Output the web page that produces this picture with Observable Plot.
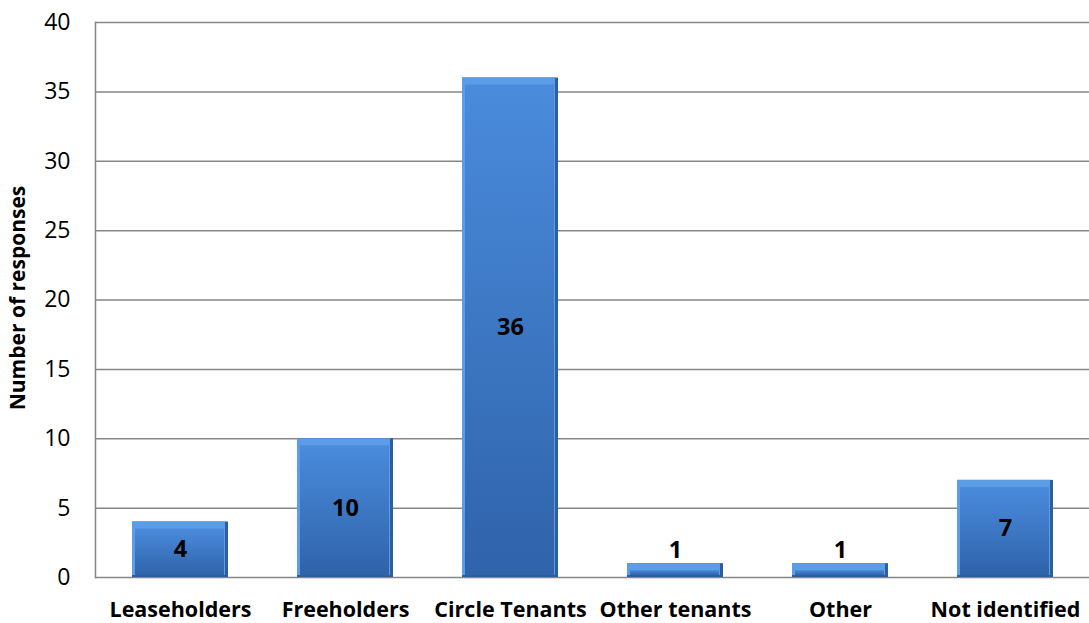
<!DOCTYPE html>
<html>
<head>
<meta charset="utf-8">
<script src="https://cdn.jsdelivr.net/npm/d3@7"></script>
<script src="https://cdn.jsdelivr.net/npm/@observablehq/plot@0.6"></script>
<style>
  html, body { margin: 0; padding: 0; background: #fff; }
  #chart svg { display: block; }
</style>
</head>
<body>
<div id="chart"></div>
<script>
const categories = ["Leaseholders", "Freeholders", "Circle Tenants", "Other tenants", "Other", "Not identified"];
const responses = [4, 10, 36, 1, 1, 7];
const yTicks = [0, 5, 10, 15, 20, 25, 30, 35, 40];
const yTitle = "Number of responses";

const data = categories.map((c, i) => ({ category: c, value: responses[i] }));

const font = "'Open Sans', Lato, sans-serif";

const plot = Plot.plot({
  width: 1089,
  height: 623,
  marginLeft: 95,
  marginRight: 0,
  marginTop: 22,
  marginBottom: 46,
  style: { fontFamily: font, background: "#fff" },
  x: { domain: categories, paddingInner: 0.42, paddingOuter: 0.21, label: null },
  y: { domain: [0, 40], ticks: yTicks, label: null },
  marks: [
    Plot.gridY(yTicks, { stroke: "#868686", strokeOpacity: 1, strokeWidth: 1.5 }),
    Plot.frame({ anchor: "left", stroke: "#868686", strokeWidth: 1.5 }),
    // bevelled bars: dark base, light top/left bevel, gradient face
    Plot.barY(data, { x: "category", y: "value", fill: "#2d5e9e" }),
    Plot.barY(data, { x: "category", y: "value", insetRight: 3, insetBottom: 2, fill: "#5c9de8" }),
    Plot.barY(data, { x: "category", y: "value", insetTop: 7, insetLeft: 3, insetRight: 4, insetBottom: 2, fill: "url(#barGrad)" }),
    Plot.axisY(yTicks, { tickSize: 0, tickPadding: 25, fontSize: 23, fill: "#000", label: null, textAnchor: "end" }),
    Plot.axisX({ tickSize: 0, tickPadding: 24, fontSize: 21.5, fontWeight: "bold", fill: "#000", label: null }),
    Plot.text(data.filter(d => d.value >= 3), { x: "category", y: d => d.value / 2, text: d => String(d.value), fontSize: 23.5, fontWeight: "bold", fill: "#000" }),
    Plot.text(data.filter(d => d.value < 3), { x: "category", y: "value", text: d => String(d.value), dy: -13, fontSize: 23.5, fontWeight: "bold", fill: "#000" }),
    Plot.text([yTitle], { frameAnchor: "left", textAnchor: "middle", dx: -77, dy: -2, rotate: -90, fontSize: 21, fontWeight: "bold", fill: "#000" })
  ]
});

// gradient for bar faces
const ns = "http://www.w3.org/2000/svg";
const defs = document.createElementNS(ns, "defs");
const grad = document.createElementNS(ns, "linearGradient");
grad.setAttribute("id", "barGrad");
grad.setAttribute("x1", "0"); grad.setAttribute("y1", "0");
grad.setAttribute("x2", "0"); grad.setAttribute("y2", "1");
[["0%", "#4a8bdc"], ["100%", "#2f63aa"]].forEach(([o, c]) => {
  const s = document.createElementNS(ns, "stop");
  s.setAttribute("offset", o); s.setAttribute("stop-color", c);
  grad.appendChild(s);
});
defs.appendChild(grad);
plot.insertBefore(defs, plot.firstChild);

document.getElementById("chart").appendChild(plot);
</script>
</body>
</html>
